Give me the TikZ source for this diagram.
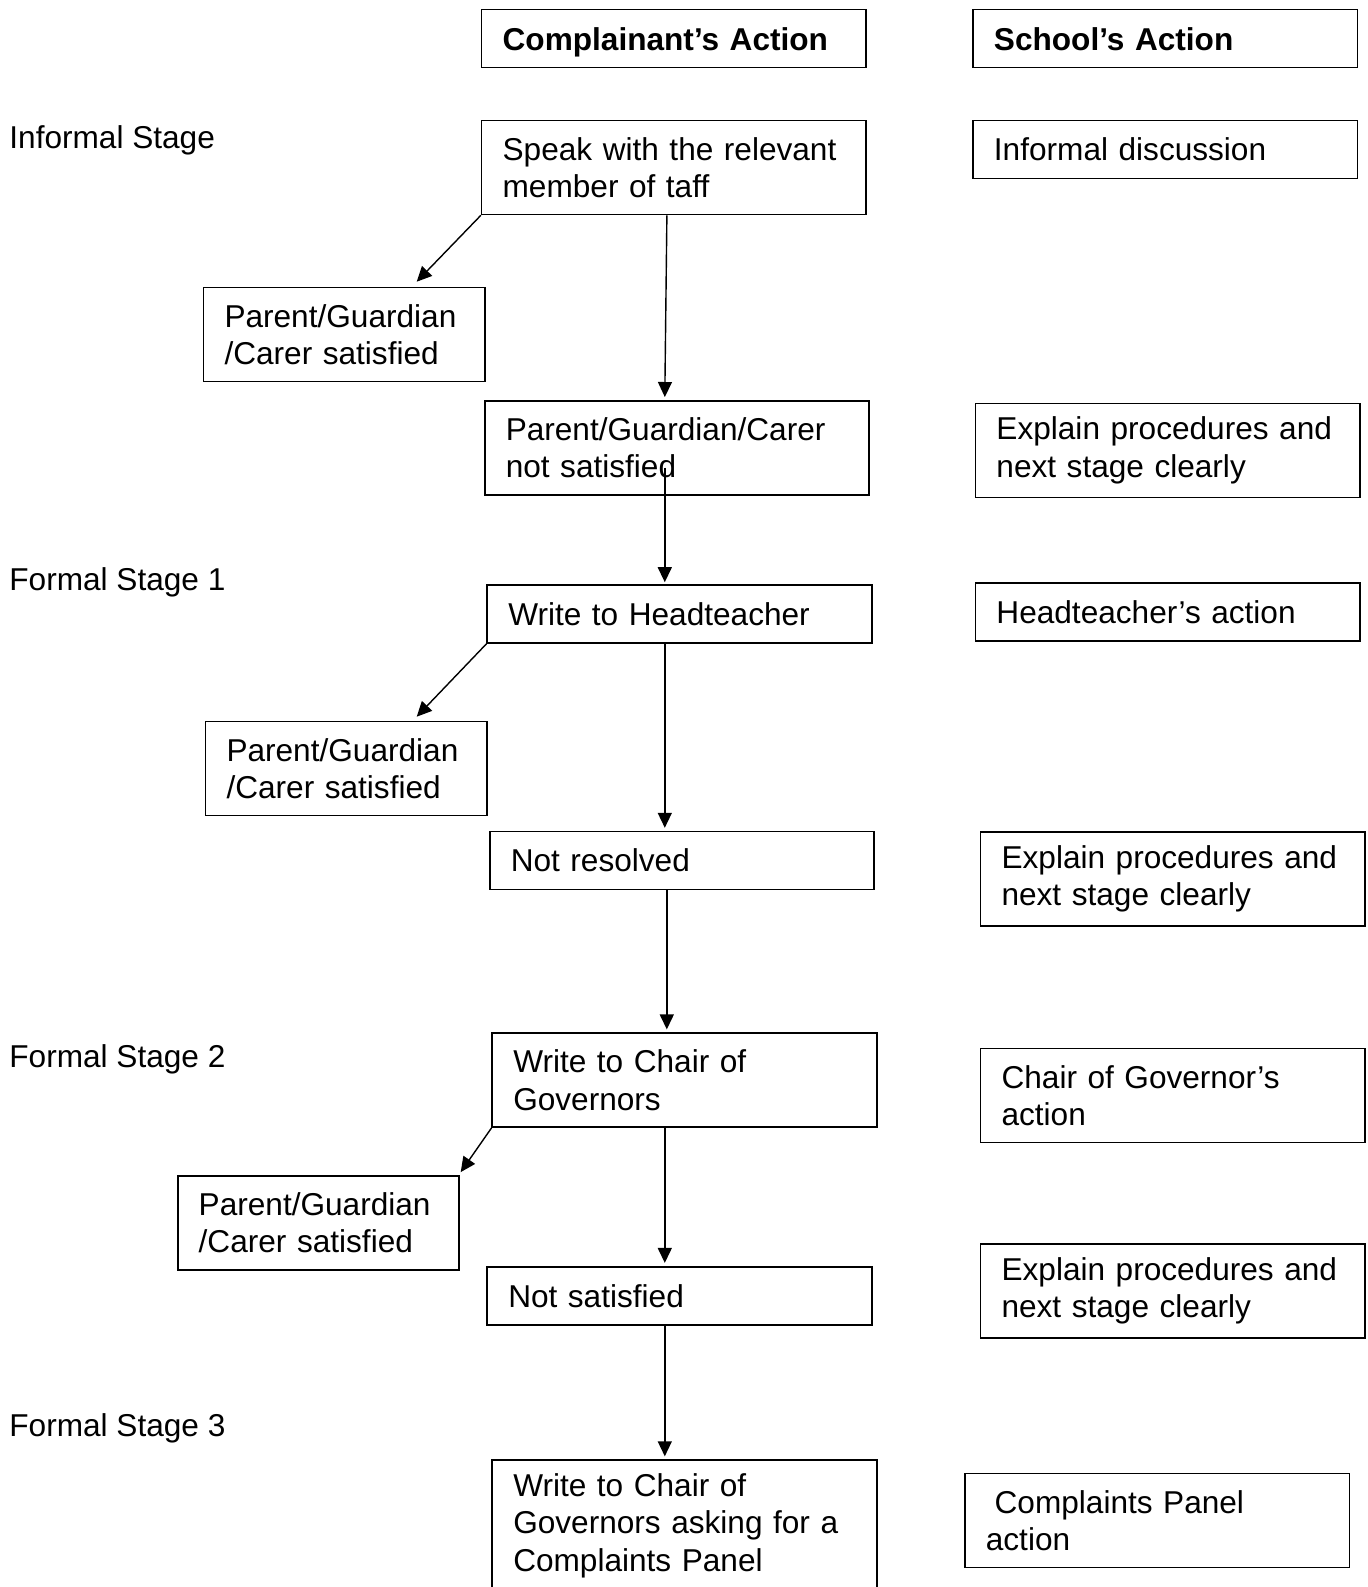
\documentclass[tikz,border=0pt]{standalone}
\usepackage{fontspec}
\setmainfont{Liberation Sans}
\usetikzlibrary{arrows.meta}

\begin{document}
\begin{tikzpicture}[x=0.5pt,y=-0.5pt,
		txt/.style={font=\fontsize{15.8pt}{18.7pt}\selectfont},
		box/.style={txt, draw, line width=0.8pt, align=left, inner xsep=10.5pt, inner ysep=0pt, text width=171.25pt, minimum height=47pt},
		small/.style={box, text width=119.6pt},
		single/.style={minimum height=29pt},
		heading/.style={box, single, font=\fontsize{15.8pt}{18.7pt}\selectfont\bfseries},
		stage/.style={txt, anchor=west, inner sep=0pt, text height=11.5pt, text depth=0pt},
		flow/.style={line width=0.7pt, -{Triangle[length=7.5pt,width=7pt]}}]
		\useasboundingbox (0,0) rectangle (1368,1587);
		% headings
		\node[heading] (ca) at (673.9,38.5) {\rule[-4pt]{0pt}{20pt}Complainant’s Action};
		\node[heading] (sa) at (1165.2,38.5) {\rule[-4pt]{0pt}{20pt}School’s Action};
		% stages
		\node[stage] (s0) at (9,136.6) {Informal Stage};
		\node[stage] (s1) at (9,578.8) {Formal Stage 1};
		\node[stage] (s2) at (9,1056.4) {Formal Stage 2};
		\node[stage] (s3) at (9,1424.7) {Formal Stage 3};
		% complainant
		\node[box] (speak) at (673.9,167.5) {Speak with the relevant\\member of taff};
		\node[small] (sat1) at (344.1,334.5) {Parent/Guardian\\/Carer satisfied};
		\node[box] (notsat1) at (677,447.8) {Parent/Guardian/Carer\\not satisfied};
		\node[box,single] (head) at (679.5,614) {Write to Headteacher};
		\node[small] (sat2) at (346.1,768.5) {Parent/Guardian\\/Carer satisfied};
		\node[box,single] (notres) at (682,860.6) {Not resolved};
		\node[box] (chair) at (684.5,1080.2) {Write to Chair of\\Governors};
		\node[small] (sat3) at (318.3,1222.9) {Parent/Guardian\\/Carer satisfied};
		\node[box,single] (notsat2) at (679.5,1295.7) {Not satisfied};
		\node[box,minimum height=65.7pt] (panel) at (684.5,1525.8) {Write to Chair of\\Governors asking for a\\Complaints Panel};
		% school
		\node[box,single] (disc) at (1165.2,149.3) {Informal discussion};
		\node[box] (expl1) at (1167.7,450.3) {Explain procedures and\\next stage clearly};
		\node[box,single] (headact) at (1167.7,611.7) {Headteacher’s action};
		\node[box] (expl2) at (1172.8,878.8) {Explain procedures and\\next stage clearly};
		\node[box] (chairact) at (1172.8,1095.4) {Chair of Governor’s\\action};
		\node[box] (expl3) at (1172.8,1290.7) {Explain procedures and\\next stage clearly};
		\node[box] (panelact) at (1157.1,1520.4) {\hspace*{4.4pt}Complaints Panel\\action};
		% arrows
		\draw[flow] (speak.south west) -- ([xshift=-34.4pt,yshift=2.5pt]sat1.north east);
		\draw[flow] ([xshift=-3.5pt]speak.south) -- ([xshift=-6.1pt,yshift=1.5pt]notsat1.north);
		\draw[flow] ([xshift=-6.1pt,yshift=-9.85pt]notsat1.center) -- ([xshift=-7.35pt,yshift=1pt]head.north);
		\draw[flow] (head.south west) -- ([xshift=-35.4pt,yshift=2pt]sat2.north east);
		\draw[flow] ([xshift=-7.35pt]head.south) -- ([xshift=-8.6pt,yshift=1.5pt]notres.north);
		\draw[flow] ([xshift=-7.6pt]notres.south) -- ([xshift=-8.85pt,yshift=1.5pt]chair.north);
		\draw[flow] (chair.south west) -- ([xshift=0.5pt,yshift=1.5pt]sat3.north east);
		\draw[flow] ([xshift=-9.85pt]chair.south) -- ([xshift=-7.35pt,yshift=1.5pt]notsat2.north);
		\draw[flow] ([xshift=-7.35pt]notsat2.south) -- ([xshift=-9.85pt,yshift=1.5pt]panel.north);
	\end{tikzpicture}
\end{document}
